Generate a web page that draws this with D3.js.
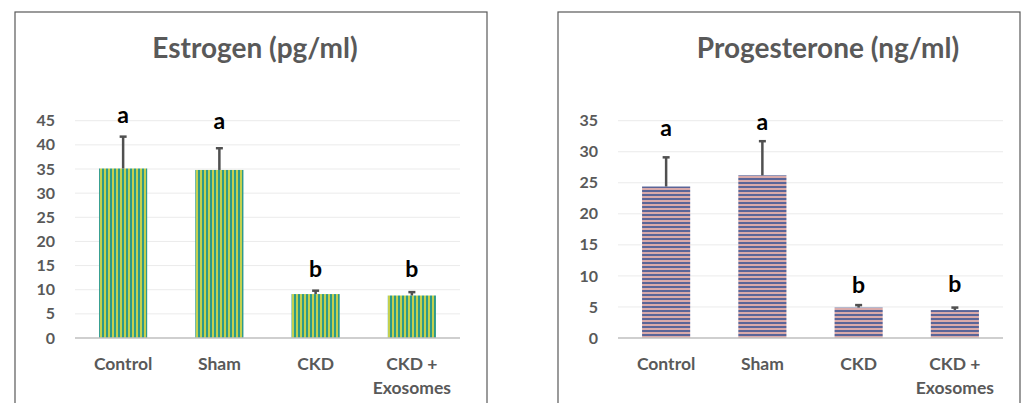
<!DOCTYPE html>
<html>
<head>
<meta charset="utf-8">
<script src="https://cdn.jsdelivr.net/npm/d3@7"></script>
<style>
  body { margin: 0; background: #fff; }
  svg { display: block; font-family: Lato, "Open Sans", sans-serif; }
</style>
</head>
<body>
<div id="wrapper"></div>
<script>
const groups = ['Control', 'Sham', 'CKD', 'CKD + Exosomes']

const estrogenMeans = [35.1, 34.8, 9.1, 8.8]
const estrogenErrors = [6.6, 4.5, 0.7, 0.7]
const estrogenLetters = ['a', 'a', 'b', 'b']
const estrogenLetterAt = [44.6, 43.2, 12.7, 12.7]
const estrogenTicks = [0, 5, 10, 15, 20, 25, 30, 35, 40, 45]

const progesteroneMeans = [24.4, 26.2, 4.9, 4.5]
const progesteroneErrors = [4.7, 5.5, 0.4, 0.4]
const progesteroneLetters = ['a', 'a', 'b', 'b']
const progesteroneLetterAt = [32.6, 33.5, 7.3, 7.4]
const progesteroneTicks = [0, 5, 10, 15, 20, 25, 30, 35]

const wrapper = d3.select('#wrapper')
  .append('svg')
  .attr('width', 1032)
  .attr('height', 403)

const defs = wrapper.append('defs')

// vertical stripes for estrogen
const vStripes = defs.append('pattern')
  .attr('id', 'vstripes')
  .attr('patternUnits', 'userSpaceOnUse')
  .attr('width', 4)
  .attr('height', 4)
vStripes.append('rect').attr('width', 4).attr('height', 4).attr('fill', '#c4d04e')
vStripes.append('rect').attr('x', 2).attr('width', 2).attr('height', 4).attr('fill', '#2d9a8a')

// horizontal stripes for progesterone
const hStripes = defs.append('pattern')
  .attr('id', 'hstripes')
  .attr('patternUnits', 'userSpaceOnUse')
  .attr('width', 4)
  .attr('height', 4)
hStripes.append('rect').attr('width', 4).attr('height', 4).attr('fill', '#d9aaaa')
hStripes.append('rect').attr('y', 2).attr('width', 4).attr('height', 2).attr('fill', '#5a6598')

function drawPanel(opts) {
  const {
    frame, plot, title, titleX, means, errors, letters, letterAt, ticks, fill,
  } = opts

  const panel = wrapper.append('g')

  panel.append('rect')
    .attr('x', frame.left)
    .attr('y', frame.top)
    .attr('width', frame.right - frame.left)
    .attr('height', 420)
    .attr('fill', '#fff')
    .attr('stroke', '#595959')
    .attr('stroke-width', 1.2)

  panel.append('text')
    .attr('x', titleX)
    .attr('y', 58)
    .attr('text-anchor', 'middle')
    .attr('fill', '#595959')
    .attr('font-size', 28)
    .attr('font-weight', 'bold')
    .text(title)

  const xScale = d3.scaleBand()
    .domain(groups)
    .range([plot.left, plot.right])
    .padding(0.5)
    .paddingOuter(0.25)

  const yScale = d3.scaleLinear()
    .domain(d3.extent(ticks))
    .range([plot.bottom, plot.top])

  // gridlines
  panel.append('g')
    .selectAll('line')
    .data(ticks.slice(1))
    .enter().append('line')
    .attr('x1', plot.left)
    .attr('x2', plot.right)
    .attr('y1', d => yScale(d))
    .attr('y2', d => yScale(d))
    .attr('stroke', '#ebebeb')
    .attr('stroke-width', 1)

  const yAxis = panel.append('g')
    .attr('transform', `translate(${plot.left},0)`)
    .call(d3.axisLeft(yScale).tickValues(ticks).tickSize(0).tickPadding(20))
  yAxis.select('.domain').remove()
  yAxis.selectAll('text')
    .attr('fill', '#595959')
    .attr('font-size', 16)
    .attr('font-weight', 'bold')
    .attr('font-family', 'Lato, sans-serif')

  panel.append('g')
    .selectAll('rect')
    .data(means)
    .enter().append('rect')
    .attr('x', (d, i) => xScale(groups[i]))
    .attr('y', d => yScale(d))
    .attr('width', xScale.bandwidth())
    .attr('height', d => yScale(0) - yScale(d))
    .attr('fill', fill)

  // error bars, upward only
  const err = panel.append('g')
    .selectAll('g')
    .data(means)
    .enter().append('g')
  err.append('line')
    .attr('x1', (d, i) => xScale(groups[i]) + xScale.bandwidth() / 2)
    .attr('x2', (d, i) => xScale(groups[i]) + xScale.bandwidth() / 2)
    .attr('y1', d => yScale(d))
    .attr('y2', (d, i) => yScale(d + errors[i]))
    .attr('stroke', '#505050')
    .attr('stroke-width', 2.5)
  err.append('line')
    .attr('x1', (d, i) => xScale(groups[i]) + xScale.bandwidth() / 2 - 3.5)
    .attr('x2', (d, i) => xScale(groups[i]) + xScale.bandwidth() / 2 + 3.5)
    .attr('y1', (d, i) => yScale(d + errors[i]))
    .attr('y2', (d, i) => yScale(d + errors[i]))
    .attr('stroke', '#505050')
    .attr('stroke-width', 2.5)

  // x axis line
  panel.append('line')
    .attr('x1', plot.left)
    .attr('x2', plot.right)
    .attr('y1', yScale(0))
    .attr('y2', yScale(0))
    .attr('stroke', '#bfbfbf')
    .attr('stroke-width', 1.5)

  panel.append('g')
    .selectAll('text')
    .data(letters)
    .enter().append('text')
    .attr('x', (d, i) => xScale(groups[i]) + xScale.bandwidth() / 2)
    .attr('y', (d, i) => yScale(letterAt[i]))
    .attr('text-anchor', 'middle')
    .attr('font-size', 23)
    .attr('font-weight', 'bold')
    .attr('fill', '#000')
    .text(d => d)

  const xLabels = panel.append('g')
    .selectAll('text')
    .data(groups)
    .enter().append('text')
    .attr('x', d => xScale(d) + xScale.bandwidth() / 2)
    .attr('y', 370)
    .attr('text-anchor', 'middle')
    .attr('fill', '#595959')
    .attr('font-size', 17.5)
    .attr('font-weight', 'bold')
  xLabels.each(function (d) {
    const parts = d === 'CKD + Exosomes' ? ['CKD +', 'Exosomes'] : [d]
    d3.select(this).selectAll('tspan')
      .data(parts)
      .enter().append('tspan')
      .attr('x', xScale(d) + xScale.bandwidth() / 2)
      .attr('dy', (p, j) => j === 0 ? 0 : 24)
      .text(p => p)
  })
}

drawPanel({
  frame: { left: 15, right: 487, top: 12 },
  plot: { left: 75, right: 460, top: 120.7, bottom: 338 },
  title: 'Estrogen (pg/ml)',
  titleX: 255,
  means: estrogenMeans,
  errors: estrogenErrors,
  letters: estrogenLetters,
  letterAt: estrogenLetterAt,
  ticks: estrogenTicks,
  fill: 'url(#vstripes)',
})

drawPanel({
  frame: { left: 558, right: 1020, top: 12 },
  plot: { left: 618, right: 1003, top: 120.7, bottom: 338 },
  title: 'Progesterone (ng/ml)',
  titleX: 828,
  means: progesteroneMeans,
  errors: progesteroneErrors,
  letters: progesteroneLetters,
  letterAt: progesteroneLetterAt,
  ticks: progesteroneTicks,
  fill: 'url(#hstripes)',
})
</script>
</body>
</html>
